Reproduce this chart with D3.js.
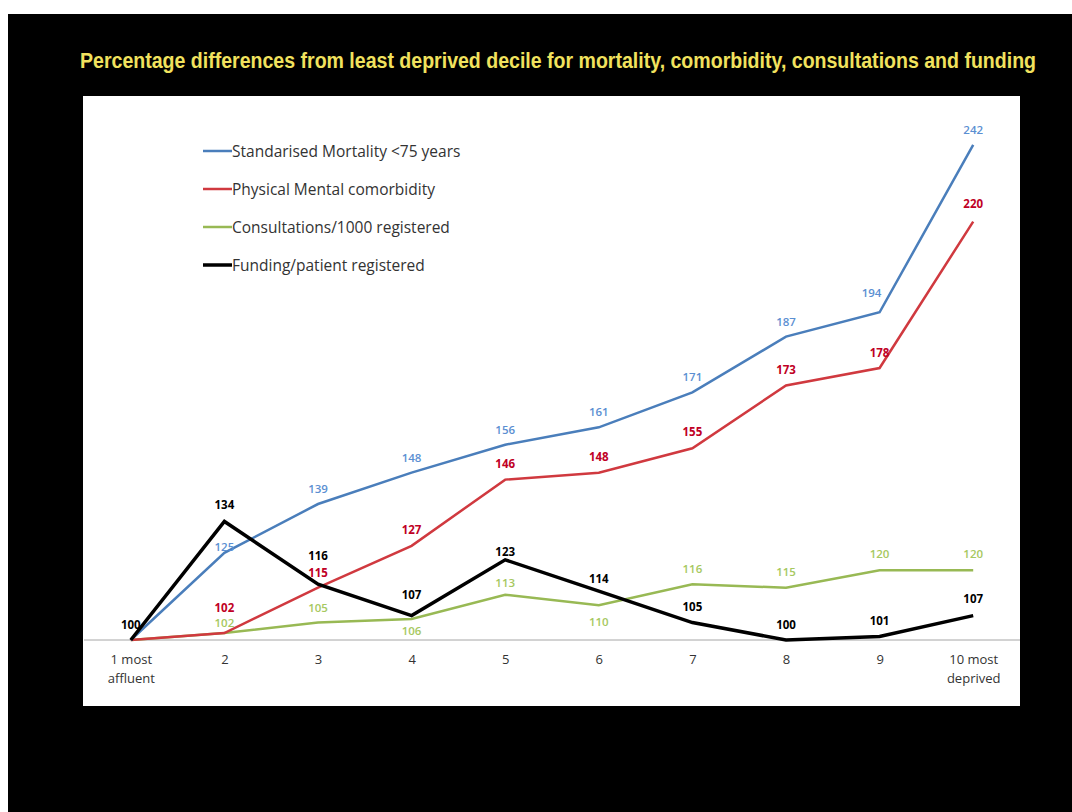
<!DOCTYPE html>
<html>
<head>
<meta charset="utf-8">
<script src="https://cdn.jsdelivr.net/npm/d3@7"></script>
<style>
  html, body { margin: 0; padding: 0; background: #fff; }
  svg { display: block; }
</style>
</head>
<body>
<div id="chart"></div>
<script>
const categories = ["1 most|affluent", "2", "3", "4", "5", "6", "7", "8", "9", "10 most|deprived"];

const mortality = [100, 125, 139, 148, 156, 161, 171, 187, 194, 242];
const comorbidity = [100, 102, 115, 127, 146, 148, 155, 173, 178, 220];
const consultations = [100, 102, 105, 106, 113, 110, 116, 115, 120, 120];
const funding = [100, 134, 116, 107, 123, 114, 105, 100, 101, 107];

const seriesNames = [
  "Standarised Mortality <75 years",
  "Physical Mental comorbidity",
  "Consultations/1000 registered",
  "Funding/patient registered"
];

// label nudges (dx, dy from the point), first point has no label except funding
const labelNudge = {
  mortality:     [null, [0, -6], [0, -15], [0, -15], [0, -15], [0, -15], [0, -15], [0, -15], [-8, -19], [0, -15]],
  comorbidity:   [null, [0, -25], [0, -15], [0, -16], [0, -16], [0, -16], [0, -16], [0, -15], [0, -15], [0, -18]],
  consultations: [null, [0, -10], [0, -15], [0, 12], [0, -12], [0, 17], [0, -15], [0, -16], [0, -16], [0, -16]],
  funding:       [[0, -15], [0, -16], [0, -28], [0, -21], [0, -8], [0, -12], [0, -16], [0, -15], [0, -16], [0, -17]]
};

const width = 1072, height = 812;

const svg = d3.select("#chart").append("svg")
  .attr("width", width)
  .attr("height", height);

// slide background
svg.append("rect").attr("x", 8).attr("y", 14).attr("width", width - 8).attr("height", height - 14).attr("fill", "#000");

// title: narrow look by squeezing horizontally to the slide width
const title = svg.append("text")
  .attr("x", 0).attr("y", 0)
  .style("font-family", "'Liberation Sans', Arial, sans-serif")
  .style("font-weight", "bold")
  .style("font-size", "22px")
  .attr("fill", "#f1e25e")
  .text("Percentage differences from least deprived decile for mortality, comorbidity, consultations and funding");
const tw = title.node().getComputedTextLength();
title.attr("transform", `translate(80,68) scale(${957 / tw},1)`);

// chart area
svg.append("rect").attr("x", 83).attr("y", 96).attr("width", 937).attr("height", 610).attr("fill", "#fff");

const x = d3.scalePoint().domain(categories).range([84, 1020]).padding(0.5);
const y = d3.scaleLinear().domain([100, 250]).range([640, 117]);

svg.append("line")
  .attr("x1", 84).attr("x2", 1020)
  .attr("y1", y(100)).attr("y2", y(100))
  .attr("stroke", "#a6a6a6").attr("stroke-width", 1);

const xAxis = svg.append("g").attr("transform", `translate(0,${y(100)})`)
  .call(d3.axisBottom(x).tickSize(0).tickFormat(""));
xAxis.select(".domain").remove();

xAxis.selectAll(".tick").each(function(d) {
  const t = d3.select(this).append("text")
    .attr("text-anchor", "middle")
    .attr("fill", "#333")
    .style("font-family", "'Open Sans', 'Noto Sans', sans-serif")
    .style("font-size", "13px");
  d.split("|").forEach((part, i) => {
    t.append("tspan").attr("x", 0).attr("y", 24 + i * 19).text(part);
  });
});

const series = [
  { key: "mortality", name: seriesNames[0], values: mortality, color: "#4a7ebb", label: "#5b8fd2", w: 2.5 },
  { key: "comorbidity", name: seriesNames[1], values: comorbidity, color: "#d0393f", label: "#c00025", w: 2.5 },
  { key: "consultations", name: seriesNames[2], values: consultations, color: "#98b954", label: "#a6c860", w: 2.5 },
  { key: "funding", name: seriesNames[3], values: funding, color: "#000", label: "#000", w: 3.5 }
];

const line = d3.line()
  .x((d, i) => x(categories[i]))
  .y(d => y(d));

// draw order: green, red, blue, black on top
[2, 1, 0, 3].forEach(k => {
  const s = series[k];
  svg.append("path")
    .datum(s.values)
    .attr("fill", "none")
    .attr("stroke", s.color)
    .attr("stroke-width", s.w)
    .attr("stroke-linejoin", "miter")
    .attr("d", line);
});

series.forEach(s => {
  svg.append("g").selectAll("text")
    .data(s.values.map((v, i) => ({ v, i, n: labelNudge[s.key][i] })).filter(d => d.n))
    .join("text")
    .attr("x", d => x(categories[d.i]) + d.n[0])
    .attr("y", d => y(d.v) + d.n[1])
    .attr("dy", "0.35em")
    .attr("text-anchor", "middle")
    .attr("fill", s.label)
    .style("font-family", "'Open Sans', 'Noto Sans', sans-serif")
    .style("font-weight", s.key === "mortality" || s.key === "consultations" ? "600" : "bold")
    .style("font-size", "11.5px")
    .text(d => d.v);
});

// legend
const legend = svg.append("g").attr("transform", "translate(203,151)");
series.forEach((s, i) => {
  const g = legend.append("g").attr("transform", `translate(0,${i * 38})`);
  g.append("line").attr("x1", 0).attr("x2", 29).attr("y1", 0).attr("y2", 0)
    .attr("stroke", s.color).attr("stroke-width", s.w);
  g.append("text").attr("x", 29).attr("y", 1).attr("dy", "0.35em")
    .attr("fill", "#333")
    .style("font-family", "'Open Sans', 'Noto Sans', sans-serif")
    .style("font-size", "15.5px")
    .text(s.name);
});
</script>
</body>
</html>
